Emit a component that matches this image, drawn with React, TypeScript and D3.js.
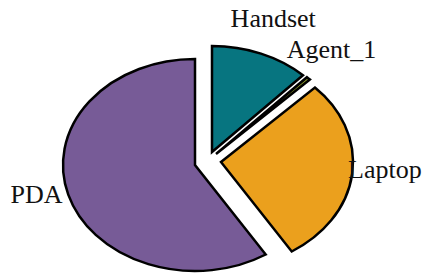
import * as d3 from 'd3'
import { useEffect, useRef } from 'react'

// data
const categories = ['Handset', 'Agent_1', 'Laptop', 'PDA']
const values = [12.1, 0.5, 28.4, 59]
const colors = ['#077580', '#8c9a2c', '#eba01d', '#775b97']

// how far each slice is pulled out of the pie (px)
const explode = [
  [17, -13],
  [21, -11],
  [26, -3],
  [0, 0],
]

const W = 427
const H = 277

export default function App() {
  const ref = useRef<SVGSVGElement>(null)

  useEffect(() => {
    const svg = d3.select(ref.current)
    svg.selectAll('*').remove()

    const cx = 195
    const cy = 165
    const ry = 106
    const rx = 132
    const sx = rx / ry

    const pie = d3
      .pie<number>()
      .sort(null)
      .value(d => d)
    const arcs = pie(values)
    const arc = d3.arc<d3.PieArcDatum<number>>().innerRadius(0).outerRadius(ry)

    const g = svg.append('g').attr('transform', `translate(${cx},${cy})`)

    g.selectAll('path')
      .data(arcs)
      .join('path')
      .attr('transform', (d, i) => `translate(${explode[i][0]},${explode[i][1]}) scale(${sx},1)`)
      .attr('d', d => arc(d))
      .attr('fill', (d, i) => colors[i])
      .attr('stroke', '#000')
      .attr('stroke-width', 2.5)
      .attr('stroke-linejoin', 'miter')
      .attr('vector-effect', 'non-scaling-stroke')

    // labels sit outside the ellipse at each slice's mid angle
    const lx = 1.25
    const ly = 1.28
    g.selectAll('text')
      .data(arcs)
      .join('text')
      .attr('x', (d, i) => {
        const a = (d.startAngle + d.endAngle) / 2
        return explode[i][0] + lx * rx * Math.sin(a)
      })
      .attr('y', (d, i) => {
        const a = (d.startAngle + d.endAngle) / 2
        return explode[i][1] - ly * ry * Math.cos(a) - 8
      })
      .attr('text-anchor', 'middle')
      .attr('dominant-baseline', 'central')
      .attr('font-family', '"Liberation Serif", "Times New Roman", serif')
      .attr('font-size', 26)
      .attr('fill', '#111')
      .text((d, i) => categories[i])
  }, [])

  return (
    <div style={{ position: 'absolute', left: 0, top: 0 }}>
      <svg ref={ref} width={W} height={H} style={{ display: 'block', background: '#fff' }} />
    </div>
  )
}
